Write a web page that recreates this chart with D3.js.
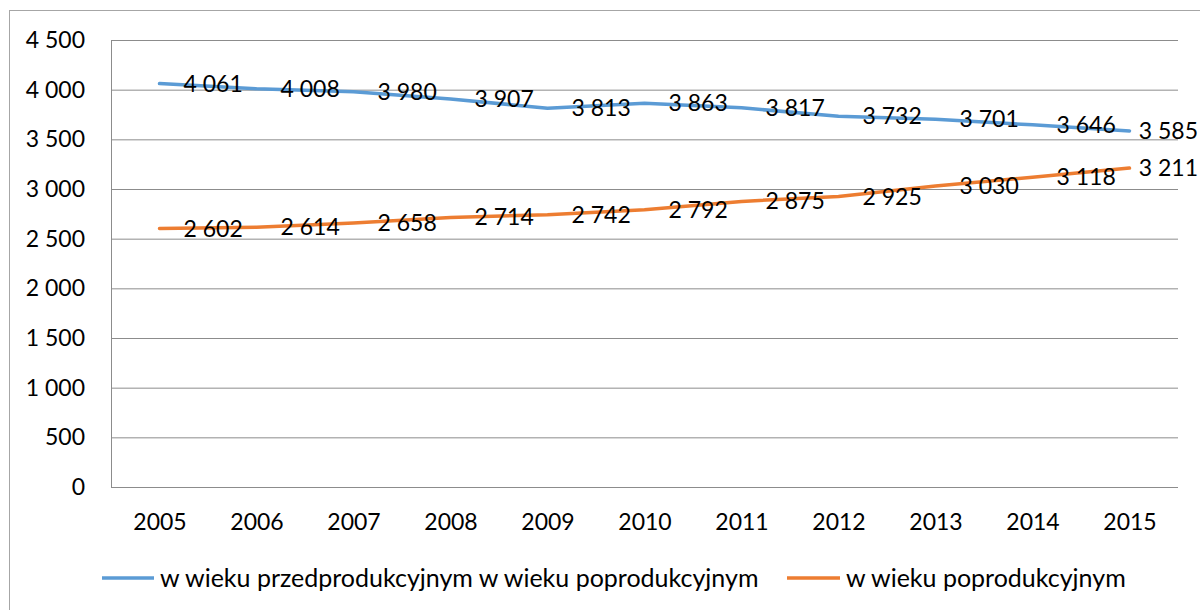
<!DOCTYPE html>
<html>
<head>
<meta charset="utf-8">
<script src="https://cdn.jsdelivr.net/npm/d3@7"></script>
<style>
  body { margin: 0; background: #fff; }
  text { font-family: Lato, "Open Sans", sans-serif; fill: #000; }
</style>
</head>
<body>
<div id="chart"></div>
<script>
const years = ['2005', '2006', '2007', '2008', '2009', '2010', '2011', '2012', '2013', '2014', '2015'];
const przed = [4061, 4008, 3980, 3907, 3813, 3863, 3817, 3732, 3701, 3646, 3585];
const po = [2602, 2614, 2658, 2714, 2742, 2792, 2875, 2925, 3030, 3118, 3211];
const yTicks = [0, 500, 1000, 1500, 2000, 2500, 3000, 3500, 4000, 4500];
const seriesNames = ['w wieku przedprodukcyjnym w wieku poprodukcyjnym', 'w wieku poprodukcyjnym'];
const colors = ['#5b9bd5', '#ed7d31'];

const width = 1200, height = 610;
const plotLeft = 111, plotRight = 1178, plotTop = 40, plotBottom = 487;
const fontSize = 23;
const legendFont = 25;

const fmt = d3.formatLocale({ decimal: ',', thousands: '\u00a0', grouping: [3], currency: ['', ''] }).format(',d');

const x = d3.scalePoint().domain(years).range([plotLeft, plotRight]).padding(0.5);
const y = d3.scaleLinear().domain([0, 4500]).range([plotBottom, plotTop]);

const svg = d3.select('#chart')
  .append('svg')
  .attr('width', width)
  .attr('height', height);

// outer chart border
svg.append('rect')
  .attr('x', 9.5).attr('y', 10.5)
  .attr('width', 1200).attr('height', 620)
  .attr('fill', 'none')
  .attr('stroke', '#a6a6a6');

// gridlines + y labels
const yAxis = svg.append('g')
  .attr('transform', `translate(${plotLeft},0)`)
  .call(d3.axisLeft(y).tickValues(yTicks).tickSize(-(plotRight - plotLeft)).tickPadding(26).tickFormat(fmt));
yAxis.select('.domain').remove();
yAxis.selectAll('.tick line').attr('stroke', '#8c8c8c');
yAxis.selectAll('.tick text').style('font-size', fontSize + 'px');

// vertical axis line
svg.append('line')
  .attr('x1', plotLeft + 0.5).attr('x2', plotLeft + 0.5)
  .attr('y1', y(4500)).attr('y2', y(0))
  .attr('stroke', '#8c8c8c');

// x labels
const xAxis = svg.append('g')
  .attr('transform', `translate(0,${plotBottom})`)
  .call(d3.axisBottom(x).tickSize(0).tickPadding(27));
xAxis.select('.domain').remove();
xAxis.selectAll('.tick text').style('font-size', fontSize + 'px');

const line = d3.line()
  .x((d, i) => x(years[i]))
  .y(d => y(d));

[przed, po].forEach((vals, s) => {
  svg.append('path')
    .datum(vals)
    .attr('fill', 'none')
    .attr('stroke', colors[s])
    .attr('stroke-width', 3.5)
    .attr('stroke-linejoin', 'round')
    .attr('stroke-linecap', 'round')
    .attr('d', line);

  svg.append('g')
    .selectAll('text')
    .data(vals)
    .join('text')
    .attr('y', d => y(d))
    .attr('dy', '0.35em')
    .style('font-size', fontSize + 'px')
    .text(d => fmt(d))
    .attr('x', function (d, i) {
      const w = this.getComputedTextLength();
      return Math.min(x(years[i]) + 24, 1198 - w);
    });
});

// legend
const legend = svg.append('g').attr('transform', 'translate(0,578)');
const legendItems = [
  { x1: 102, x2: 154, tx: 160 },
  { x1: 787, x2: 840, tx: 846 }
];
legendItems.forEach((it, s) => {
  legend.append('line')
    .attr('x1', it.x1).attr('x2', it.x2)
    .attr('stroke', colors[s])
    .attr('stroke-width', 3.5);
  legend.append('text')
    .attr('x', it.tx)
    .attr('dy', '0.35em')
    .style('font-size', legendFont + 'px')
    .text(seriesNames[s]);
});
</script>
</body>
</html>
